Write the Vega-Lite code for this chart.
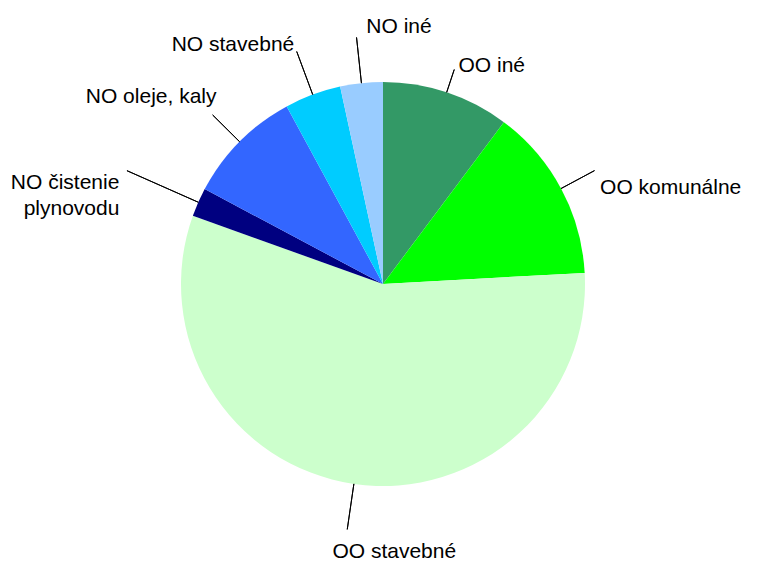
{
  "$schema": "https://vega.github.io/schema/vega-lite/v6.json",
  "width": 766,
  "height": 562,
  "padding": {"left": 0, "top": 3, "right": 2, "bottom": 0},
  "autosize": {"type": "none"},
  "background": "#ffffff",
  "config": {
    "view": {"stroke": null},
    "text": {"font": "Liberation Sans", "fontSize": 21, "color": "#000000"}
  },
  "data": {
    "values": [
      {"category": "OO iné", "value": 10.2},
      {"category": "OO komunálne", "value": 13.9},
      {"category": "OO stavebné", "value": 56.3},
      {"category": "NO čistenie plynovodu", "value": 2.3},
      {"category": "NO oleje, kaly", "value": 9.3},
      {"category": "NO stavebné", "value": 4.5},
      {"category": "NO iné", "value": 3.4}
    ]
  },
  "transform": [
    {"window": [{"op": "row_number", "as": "idx"}]},
    {"stack": "value", "groupby": [], "sort": [{"field": "idx", "order": "ascending"}], "as": ["t0", "t1"]}
  ],
  "layer": [
    {
      "mark": {"type": "arc", "radius": 202},
      "encoding": {
        "theta": {"field": "t0", "type": "quantitative"},
        "theta2": {"field": "t1"},
        "color": {
          "field": "category",
          "type": "nominal",
          "legend": null,
          "scale": {
            "domain": ["OO iné", "OO komunálne", "OO stavebné", "NO čistenie plynovodu", "NO oleje, kaly", "NO stavebné", "NO iné"],
            "range": ["#339966", "#00ff00", "#ccffcc", "#000080", "#3366ff", "#00ccff", "#99ccff"]
          }
        }
      }
    },
    {
      "mark": {"type": "arc", "radius": 226, "radius2": 202, "padAngle": 3.14159, "thetaOffset": 0.6, "theta2Offset": -0.6, "filled": false, "stroke": "#000000", "strokeWidth": 1},
      "encoding": {
        "theta": {"field": "t0", "type": "quantitative"},
        "theta2": {"field": "t1"},
        "strokeOpacity": {"condition": {"test": "datum.category === 'OO iné'", "value": 1}, "value": 0}
      }
    },
    {
      "mark": {"type": "arc", "radius": 240, "radius2": 202, "padAngle": 3.14159, "thetaOffset": 0.6, "theta2Offset": -0.6, "filled": false, "stroke": "#000000", "strokeWidth": 1},
      "encoding": {
        "theta": {"field": "t0", "type": "quantitative"},
        "theta2": {"field": "t1"},
        "strokeOpacity": {"condition": {"test": "datum.category === 'OO komunálne' || datum.category === 'NO oleje, kaly'", "value": 1}, "value": 0}
      }
    },
    {
      "mark": {"type": "arc", "radius": 248, "radius2": 202, "padAngle": 3.14159, "thetaOffset": 0.6, "theta2Offset": -0.6, "filled": false, "stroke": "#000000", "strokeWidth": 1},
      "encoding": {
        "theta": {"field": "t0", "type": "quantitative"},
        "theta2": {"field": "t1"},
        "strokeOpacity": {"condition": {"test": "datum.category === 'OO stavebné' || datum.category === 'NO iné' || datum.category === 'NO stavebné'", "value": 1}, "value": 0}
      }
    },
    {
      "mark": {"type": "arc", "radius": 280, "radius2": 202, "padAngle": 3.14159, "thetaOffset": 0.6, "theta2Offset": -0.6, "filled": false, "stroke": "#000000", "strokeWidth": 1},
      "encoding": {
        "theta": {"field": "t0", "type": "quantitative"},
        "theta2": {"field": "t1"},
        "strokeOpacity": {"condition": {"test": "datum.category === 'NO čistenie plynovodu'", "value": 1}, "value": 0}
      }
    },
    {
      "encoding": {
        "theta": {"field": "value", "type": "quantitative", "stack": true},
        "order": {"field": "idx", "type": "quantitative"}
      },
      "layer": [
        {
          "mark": {"type": "text", "radius": 230, "align": "left", "baseline": "middle", "dx": 3},
          "encoding": {"text": {"condition": {"test": "datum.category === 'OO iné'", "field": "category"}, "value": ""}}
        },
        {
          "mark": {"type": "text", "radius": 244, "align": "left", "baseline": "top", "dx": 2, "dy": 8},
          "encoding": {"text": {"condition": {"test": "datum.category === 'OO komunálne'", "field": "category"}, "value": ""}}
        },
        {
          "mark": {"type": "text", "radius": 254, "align": "left", "baseline": "top", "dx": -14, "dy": 6},
          "encoding": {"text": {"condition": {"test": "datum.category === 'OO stavebné'", "field": "category"}, "value": ""}}
        },
        {
          "mark": {"type": "text", "radius": 285, "align": "right", "baseline": "middle", "dx": -3, "dy": 14, "lineHeight": 26},
          "encoding": {"text": {"condition": {"test": "datum.category === 'NO čistenie plynovodu'", "value": ["NO čistenie", "plynovodu"]}, "value": ""}}
        },
        {
          "mark": {"type": "text", "radius": 243, "align": "right", "baseline": "middle", "dx": 6, "dy": -16},
          "encoding": {"text": {"condition": {"test": "datum.category === 'NO oleje, kaly'", "field": "category"}, "value": ""}}
        },
        {
          "mark": {"type": "text", "radius": 255, "align": "right", "baseline": "middle", "dx": 0},
          "encoding": {"text": {"condition": {"test": "datum.category === 'NO stavebné'", "field": "category"}, "value": ""}}
        },
        {
          "mark": {"type": "text", "radius": 250, "align": "left", "baseline": "bottom", "dx": 10, "dy": 2},
          "encoding": {"text": {"condition": {"test": "datum.category === 'NO iné'", "field": "category"}, "value": ""}}
        }
      ]
    }
  ]
}
